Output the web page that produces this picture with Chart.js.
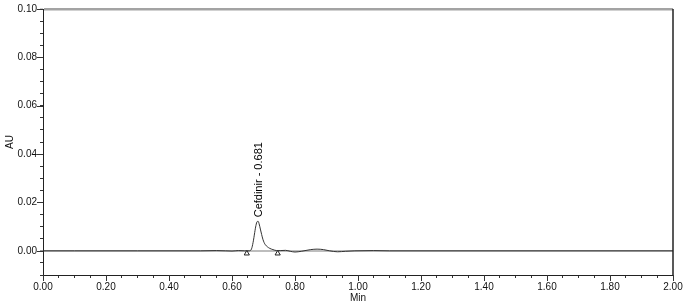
<!DOCTYPE html>
<html>
<head>
<meta charset="utf-8">
<script src="https://cdn.jsdelivr.net/npm/chart.js@4.4.1/dist/chart.umd.min.js"></script>
<style>
  html, body { margin: 0; padding: 0; background: #fff; }
  #wrap { width: 690px; height: 306px; }
</style>
</head>
<body>
<div id="wrap"><canvas id="chrom" width="690" height="306"></canvas></div>
<script>
// Chromatogram trace (retention time in min, absorbance in AU)
const timeMin = [0.00, 0.10, 0.20, 0.30, 0.40, 0.50, 0.55, 0.58, 0.60, 0.62, 0.64, 0.655,
  0.662, 0.667, 0.672, 0.676, 0.680, 0.683, 0.686, 0.690, 0.694, 0.698, 0.702, 0.706,
  0.712, 0.720, 0.730, 0.742, 0.755, 0.770, 0.785, 0.800, 0.820, 0.850, 0.870, 0.890,
  0.910, 0.935, 0.960, 0.990, 1.050, 1.100, 1.200, 1.400, 1.600, 1.800, 2.000];
const absorbance = [0.0000, 0.0000, 0.0000, 0.0000, 0.0000, 0.0000, 0.0001, 0.0000, -0.0001, 0.0001, 0.0000, 0.0000,
  0.0008, 0.0035, 0.0075, 0.0105, 0.0121, 0.0122, 0.0112, 0.0090, 0.0068, 0.0048, 0.0034, 0.0025,
  0.0017, 0.0010, 0.0005, 0.0001, 0.0001, 0.0002, -0.0002, -0.0005, -0.0002, 0.0005, 0.0007, 0.0005,
  0.0000, -0.0004, -0.0002, 0.0000, 0.0001, 0.0000, 0.0000, 0.0000, 0.0000, 0.0000, 0.0000];

// Integration start / end markers
const markerTimes = [0.647, 0.745];
const markerLevels = [-0.0011, -0.0011];

// Peak labels
const peakNames = ['Cefdinir'];
const peakTimes = [0.681];
const peakApex = [0.0122];

// Axis ticks
const xMajorStep = 0.20;
const xMinorStep = 0.05;
const yMajorStep = 0.02;
const yMinorStep = 0.005;

const FONT = '"Liberation Sans", Arial, sans-serif';

function isMultiple(v, step) {
    const r = v / step;
    return Math.abs(r - Math.round(r)) < 1e-6;
}

// Longer ticks at labelled values, right frame line, peak labels
const chromDecor = {
    id: 'chromDecor',
    afterDraw(chart) {
        const ctx = chart.ctx;
        const xs = chart.scales.x;
        const ys = chart.scales.y;
        const area = chart.chartArea;
        ctx.save();
        ctx.strokeStyle = '#333';
        ctx.lineWidth = 1;
        ctx.beginPath();
        xs.ticks.forEach(t => {
            if (!isMultiple(t.value, xMajorStep)) return;
            const px = Math.round(xs.getPixelForValue(t.value)) + 0.5;
            ctx.moveTo(px, area.bottom);
            ctx.lineTo(px, area.bottom + 6);
        });
        ys.ticks.forEach(t => {
            if (!isMultiple(t.value, yMajorStep) || t.value < -1e-9) return;
            const py = Math.round(ys.getPixelForValue(t.value)) + 0.5;
            ctx.moveTo(area.left, py);
            ctx.lineTo(area.left - 6, py);
        });
        ctx.stroke();

        // right frame
        ctx.strokeStyle = '#222';
        ctx.lineWidth = 1.5;
        ctx.beginPath();
        ctx.moveTo(area.right, area.top);
        ctx.lineTo(area.right, area.bottom);
        ctx.stroke();

        // peak labels
        ctx.fillStyle = '#000';
        ctx.font = '11px ' + FONT;
        ctx.textAlign = 'left';
        ctx.textBaseline = 'middle';
        peakNames.forEach((name, i) => {
            const px = xs.getPixelForValue(peakTimes[i]) + 1;
            const py = ys.getPixelForValue(peakApex[i]) - 4;
            ctx.save();
            ctx.translate(px, py);
            ctx.rotate(-Math.PI / 2);
            ctx.fillText(name + ' - ' + peakTimes[i].toFixed(3), 0, 0);
            ctx.restore();
        });
        ctx.restore();
    }
};

const ctx = document.getElementById('chrom').getContext('2d');
new Chart(ctx, {
    type: 'line',
    data: {
        datasets: [
            {
                label: 'Trace',
                data: timeMin.map((t, i) => ({ x: t, y: absorbance[i] })),
                borderColor: '#333',
                borderWidth: 1,
                pointRadius: 0,
                cubicInterpolationMode: 'monotone',
                fill: false
            },
            {
                label: 'Markers',
                type: 'scatter',
                data: markerTimes.map((t, i) => ({ x: t, y: markerLevels[i] })),
                pointStyle: 'triangle',
                pointRadius: 3,
                backgroundColor: '#fff',
                borderColor: '#222',
                borderWidth: 1
            }
        ]
    },
    options: {
        responsive: false,
        animation: false,
        layout: { padding: { left: 0, right: 17, top: 7, bottom: 0 } },
        plugins: {
            legend: { display: false },
            tooltip: { enabled: false }
        },
        scales: {
            x: {
                type: 'linear',
                min: 0,
                max: 2,
                afterFit: s => { s.height = 31; },
                border: { color: '#222', width: 1 },
                grid: {
                    drawOnChartArea: false,
                    tickLength: 3,
                    tickColor: '#333',
                    tickWidth: 1
                },
                ticks: {
                    stepSize: xMinorStep,
                    autoSkip: false,
                    maxRotation: 0,
                    padding: 3,
                    color: '#111',
                    font: { family: FONT, size: 10 },
                    callback: v => isMultiple(v, xMajorStep) ? Math.abs(v).toFixed(2) : ''
                },
                title: {
                    display: true,
                    text: 'Min',
                    color: '#111',
                    padding: { top: 0, bottom: 2 },
                    font: { family: FONT, size: 10 }
                }
            },
            y: {
                min: -0.01,
                max: 0.10,
                afterFit: s => { s.width = 43; },
                border: { color: '#222', width: 1 },
                grid: {
                    color: c => {
                        const v = c.tick ? c.tick.value : NaN;
                        if (Math.abs(v) < 1e-9) return '#bdbdbd';
                        if (Math.abs(v - 0.10) < 1e-9) return '#a3a3a3';
                        return 'rgba(0,0,0,0)';
                    },
                    lineWidth: c => {
                        const v = c.tick ? c.tick.value : NaN;
                        if (Math.abs(v) < 1e-9) return 2;
                        if (Math.abs(v - 0.10) < 1e-9) return 2.5;
                        return 1;
                    },
                    tickLength: 3,
                    tickColor: '#333',
                    tickWidth: 1
                },
                ticks: {
                    stepSize: yMinorStep,
                    autoSkip: false,
                    padding: 3,
                    color: '#111',
                    font: { family: FONT, size: 10 },
                    callback: v => (isMultiple(v, yMajorStep) && v > -1e-9) ? Math.abs(v).toFixed(2) : ''
                },
                title: {
                    display: true,
                    text: 'AU',
                    color: '#111',
                    padding: { top: 4, bottom: 0 },
                    font: { family: FONT, size: 10 }
                }
            }
        }
    },
    plugins: [chromDecor]
});
</script>
</body>
</html>
